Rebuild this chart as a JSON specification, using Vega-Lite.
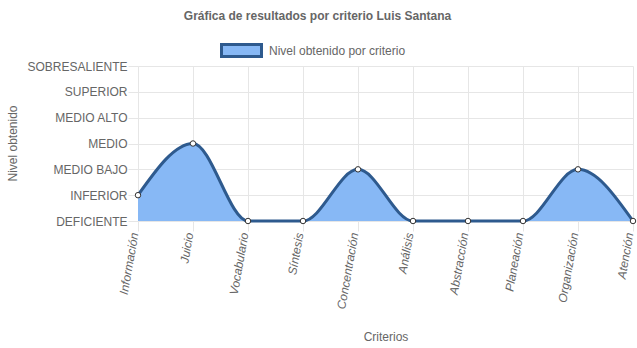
{
  "$schema": "https://vega.github.io/schema/vega-lite/v6.json",
  "width": 495,
  "height": 155,
  "autosize": {"type": "none"},
  "padding": {"left": 138, "top": 66, "right": 4, "bottom": 127},
  "background": "white",
  "config": {
    "font": "Liberation Sans",
    "view": {"stroke": null},
    "axis": {"labelFont": "Liberation Sans", "titleFont": "Liberation Sans"}
  },
  "title": {
    "text": "Gráfica de resultados por criterio Luis Santana",
    "fontSize": 12,
    "fontWeight": "bold",
    "color": "#666666",
    "anchor": "middle",
    "frame": "group",
    "dx": -68,
    "offset": 6
  },
  "data": {
    "values": [
      {"criterio": "Información", "nivel": 1, "serie": "Nivel obtenido por criterio"},
      {"criterio": "Juicio", "nivel": 3, "serie": "Nivel obtenido por criterio"},
      {"criterio": "Vocabulario", "nivel": 0, "serie": "Nivel obtenido por criterio"},
      {"criterio": "Síntesis", "nivel": 0, "serie": "Nivel obtenido por criterio"},
      {"criterio": "Concentración", "nivel": 2, "serie": "Nivel obtenido por criterio"},
      {"criterio": "Análisis", "nivel": 0, "serie": "Nivel obtenido por criterio"},
      {"criterio": "Abstracción", "nivel": 0, "serie": "Nivel obtenido por criterio"},
      {"criterio": "Planeación", "nivel": 0, "serie": "Nivel obtenido por criterio"},
      {"criterio": "Organización", "nivel": 2, "serie": "Nivel obtenido por criterio"},
      {"criterio": "Atención", "nivel": 0, "serie": "Nivel obtenido por criterio"}
    ]
  },
  "encoding": {
    "x": {
      "field": "criterio",
      "type": "nominal",
      "sort": null,
      "scale": {"type": "point", "padding": 0},
      "axis": {
        "title": "Criterios",
        "titleColor": "#666666",
        "titleFontSize": 12,
        "titleFontWeight": "normal",
        "titleBaseline": "middle",
        "titleY": 115,
        "labelAngle": -80,
        "labelAlign": "right",
        "labelBaseline": "alphabetic",
        "labelFontStyle": "italic",
        "labelFontSize": 12,
        "labelColor": "#666666",
        "labelPadding": 2,
        "tickSize": 10,
        "tickColor": "#e6e6e6",
        "grid": true,
        "gridColor": "#e6e6e6",
        "domain": false
      }
    },
    "y": {
      "field": "nivel",
      "type": "quantitative",
      "scale": {"domain": [0, 6], "nice": false},
      "axis": {
        "title": "Nivel obtenido",
        "titleColor": "#666666",
        "titleFontSize": 12,
        "titleFontWeight": "normal",
        "titleX": -126,
        "titleY": 77,
        "titleAlign": "center",
        "titleBaseline": "middle",
        "values": [0, 1, 2, 3, 4, 5, 6],
        "labelExpr": "['DEFICIENTE','INFERIOR','MEDIO BAJO','MEDIO','MEDIO ALTO','SUPERIOR','SOBRESALIENTE'][datum.value]",
        "labelFontSize": 12,
        "labelColor": "#666666",
        "labelPadding": 1,
        "tickSize": 10,
        "tickColor": "#e6e6e6",
        "grid": true,
        "gridColor": "#e6e6e6",
        "domainColor": "#e6e6e6"
      }
    }
  },
  "layer": [
    {
      "mark": {"type": "area", "interpolate": "monotone", "opacity": 1},
      "encoding": {
        "fill": {
          "field": "serie",
          "type": "nominal",
          "scale": {"range": ["#87b8f5"]},
          "legend": {
            "title": null,
            "orient": "none",
            "legendX": 82,
            "legendY": -37,
            "symbolType": "M-1,-0.3H1V0.3H-1Z",
            "symbolSize": 1600,
            "symbolStrokeColor": "#2e5a8e",
            "symbolStrokeWidth": 3,
            "symbolFillColor": "#87b8f5",
            "symbolOpacity": 1,
            "labelFontSize": 12,
            "labelColor": "#666666",
            "labelFont": "Liberation Sans",
            "labelOffset": 6
          }
        }
      }
    },
    {
      "mark": {"type": "line", "interpolate": "monotone", "color": "#2e5a8e", "strokeWidth": 3}
    },
    {
      "mark": {"type": "point", "filled": true, "fill": "white", "stroke": "#333333", "strokeWidth": 1, "size": 30, "opacity": 1}
    }
  ]
}
